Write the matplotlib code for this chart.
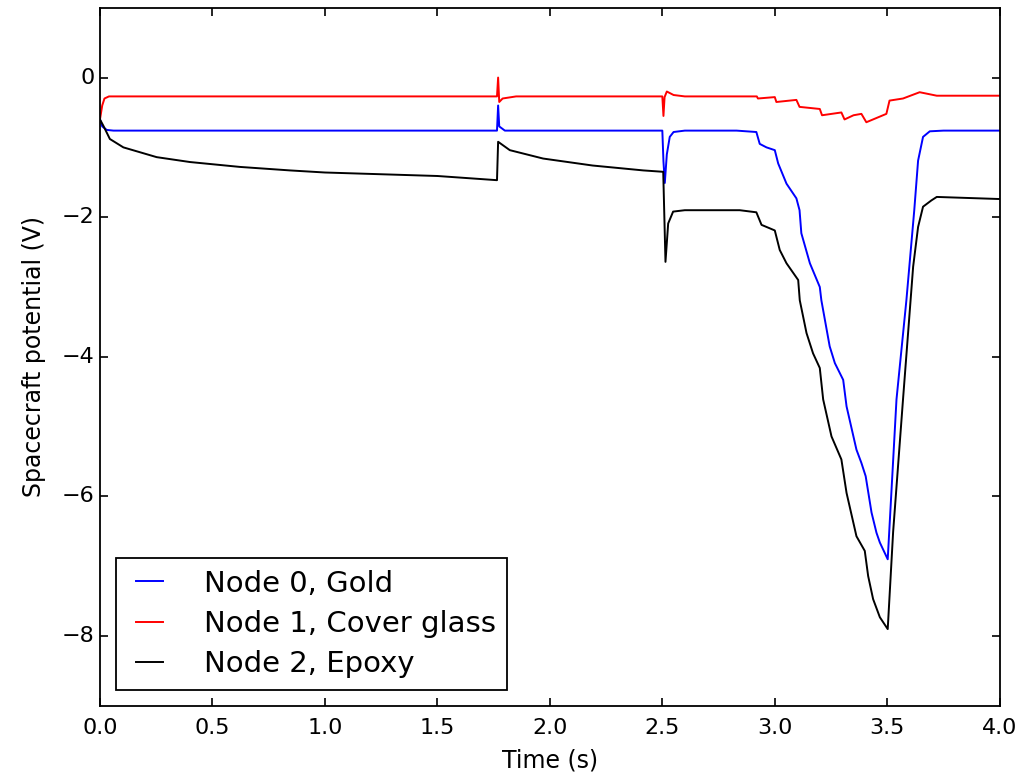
import matplotlib
matplotlib.use('Agg')
import matplotlib.pyplot as plt

# Node 0, Gold
t_gold = [0.0, 0.01, 0.03, 0.06, 0.5, 1.0, 1.765, 1.77, 1.775, 1.8, 2.0, 2.5, 2.505,
          2.511, 2.52, 2.533, 2.55, 2.6, 2.83, 2.918, 2.933, 2.963, 3.0, 3.015, 3.052,
          3.096, 3.11, 3.118, 3.156, 3.2, 3.207, 3.244, 3.267, 3.304, 3.319, 3.363,
          3.385, 3.404, 3.43, 3.452, 3.467, 3.502, 3.541, 3.585, 3.62, 3.637, 3.659,
          3.689, 3.75, 4.0]
v_gold = [-0.6, -0.7, -0.75, -0.76, -0.76, -0.76, -0.76, -0.4, -0.7, -0.76, -0.76, -0.76, -1.2,
          -1.51, -1.1, -0.85, -0.78, -0.76, -0.76, -0.78, -0.95, -1.0, -1.04, -1.23, -1.52,
          -1.73, -1.9, -2.23, -2.66, -3.0, -3.19, -3.85, -4.09, -4.33, -4.71, -5.33,
          -5.52, -5.71, -6.23, -6.52, -6.66, -6.9, -4.61, -3.19, -1.9, -1.19, -0.85,
          -0.77, -0.76, -0.76]

# Node 1, Cover glass
t_glass = [0.0, 0.01, 0.02, 0.04, 1.0, 1.765, 1.77, 1.775, 1.79, 1.85, 2.5, 2.505, 2.51,
           2.52, 2.55, 2.6, 2.92, 2.925, 3.0, 3.007, 3.096, 3.11, 3.2, 3.21, 3.296, 3.31,
           3.35, 3.385, 3.407, 3.496, 3.51, 3.57, 3.644, 3.72, 4.0]
v_glass = [-0.6, -0.4, -0.3, -0.27, -0.27, -0.27, 0.0, -0.35, -0.3, -0.27, -0.27, -0.55, -0.28,
           -0.2, -0.25, -0.27, -0.27, -0.3, -0.28, -0.35, -0.32, -0.42, -0.45, -0.54, -0.5, -0.6,
           -0.54, -0.52, -0.64, -0.52, -0.33, -0.3, -0.21, -0.26, -0.26]

# Node 2, Epoxy
t_epoxy = [0.0, 0.015, 0.044, 0.104, 0.252, 0.4, 0.622, 0.844, 1.0, 1.5, 1.765, 1.77,
           1.822, 1.97, 2.19, 2.415, 2.504, 2.514, 2.526, 2.548, 2.6, 2.844, 2.918, 2.941,
           2.978, 3.0, 3.022, 3.052, 3.104, 3.111, 3.141, 3.17, 3.2, 3.215, 3.252, 3.296,
           3.319, 3.363, 3.4, 3.415, 3.437, 3.467, 3.502, 3.526, 3.57, 3.615, 3.637, 3.659,
           3.696, 3.72, 4.0]
v_epoxy = [-0.6, -0.69, -0.88, -1.0, -1.14, -1.21, -1.28, -1.33, -1.36, -1.41, -1.47, -0.92,
           -1.04, -1.16, -1.26, -1.33, -1.35, -2.64, -2.09, -1.92, -1.9, -1.9, -1.93, -2.11,
           -2.16, -2.19, -2.47, -2.66, -2.9, -3.19, -3.66, -3.95, -4.16, -4.61, -5.14, -5.47,
           -5.95, -6.57, -6.78, -7.14, -7.47, -7.73, -7.9, -6.51, -4.61, -2.71, -2.14, -1.85,
           -1.76, -1.71, -1.74]

plt.style.use('classic')
fig = plt.figure(figsize=(10.36, 7.74), dpi=100, facecolor='white')
ax = fig.add_axes([0.0965, 0.088, 0.8685, 0.902])
lw = 1.4
ax.plot(t_gold, v_gold, 'b-', lw=lw, label='Node 0, Gold')
ax.plot(t_glass, v_glass, 'r-', lw=lw, label='Node 1, Cover glass')
ax.plot(t_epoxy, v_epoxy, 'k-', lw=lw, label='Node 2, Epoxy')
ax.set_xlim(0, 4)
ax.set_ylim(-9, 1)
ax.set_xticks([0.0, 0.5, 1.0, 1.5, 2.0, 2.5, 3.0, 3.5, 4.0])
ax.set_yticks([-8, -6, -4, -2, 0])
ax.tick_params(labelsize=16, length=6, width=1.2)
ax.tick_params(axis='x', pad=9)
for s in ax.spines.values():
    s.set_linewidth(1.3)
ax.set_xlabel('Time (s)', fontsize=17, labelpad=7)
ax.set_ylabel('Spacecraft potential (V)', fontsize=17, labelpad=11)
leg = ax.legend(loc='lower left', fontsize=21, handlelength=1.5, handletextpad=1.1,
                labelspacing=0.42, borderaxespad=0.55)
leg.get_frame().set_linewidth(1.3)
fig.savefig('out.png', dpi=100, facecolor='white')
